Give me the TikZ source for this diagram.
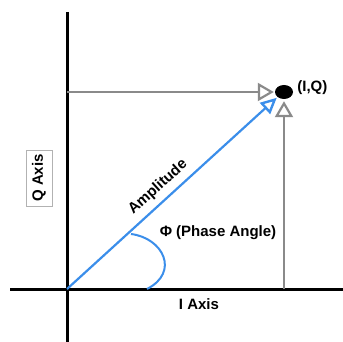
\documentclass[tikz,border=0pt]{standalone}
\usepackage{fontspec}
\setmainfont{Liberation Sans}
\usetikzlibrary{
    arrows.meta,
    positioning,
    shapes.geometric,
    calc
}
\definecolor{ampblue}{HTML}{3B8EEA}
\definecolor{projgray}{HTML}{8A8A8A}

\begin{document}
\begin{tikzpicture}[
    x=1pt, y=-1pt,
    axis/.style={line width=3pt, black},
    proj/.style={projgray, line width=1.6pt, -{Triangle[open, length=16pt, width=18pt, line width=2.2pt]}},
    amp/.style={ampblue, line width=2.2pt, -{Triangle[open, length=16pt, width=15pt, line width=2.4pt]}},
    lbl/.style={font=\fontsize{15}{18}\selectfont\bfseries, inner sep=1pt},
    axisbox/.style={draw=gray!60, line width=0.6pt, rotate=90, minimum width=56pt, minimum height=26pt, inner sep=0pt, font=\fontsize{15}{18}\selectfont\bfseries}
]
\useasboundingbox (0,0) rectangle (343,342);

% Axes
\coordinate (O) at (67,289);
\coordinate (ytop) at (67,12);
\coordinate (ybot) at (67,342);
\coordinate (xleft) at (10,289);
\coordinate (xright) at (343,289);
\draw[axis] (ytop) -- (ybot);
\draw[axis] (xleft) -- (xright);

% Point (I,Q)
\node[ellipse, fill=black, minimum width=18pt, minimum height=14pt, inner sep=0pt] (pt) at (284,92) {};
\node[lbl, right=3pt of pt, yshift=4pt] (ptlabel) {(I,Q)};

% Projections
\coordinate (qtick) at (67,92);
\coordinate (itick) at (284,289);
\draw[proj, shorten >=1pt] (qtick) -- (pt.west);
\draw[proj, shorten >=2pt] (itick) -- (pt.south);

% Amplitude vector
\draw[amp, shorten >=1pt] (O) -- (pt.south west);
\node[lbl, rotate=42] (amplabel) at (158,187) {Amplitude};

% Phase angle
\coordinate (arcA) at (131,234);
\coordinate (arcB) at (147,289);
\draw[ampblue, line width=2pt] (arcA) .. controls (163,238) and (180,272) .. (arcB);
\node[lbl] (phaselabel) at (218,233) {Φ (Phase Angle)};

% Axis labels
\node[lbl] (ilabel) at (199,304) {I Axis};
\node[axisbox] (qlabel) at (39,178) {Q Axis};
\end{tikzpicture}
\end{document}
